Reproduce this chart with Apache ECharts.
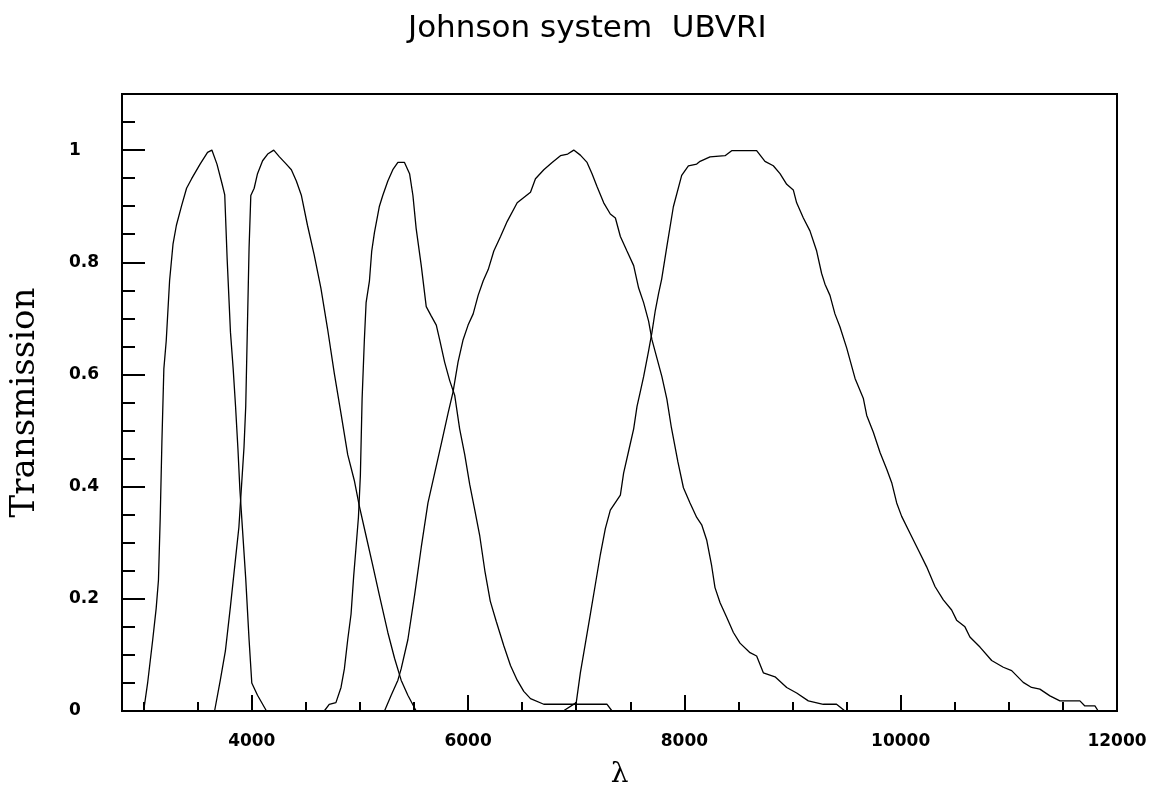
<!DOCTYPE html>
<html>
<head>
<meta charset="utf-8">
<title>Johnson system UBVRI</title>
<script src="https://cdn.jsdelivr.net/npm/echarts@6/dist/echarts.min.js"></script>
<style>
  html, body { margin: 0; padding: 0; background: #fff; }
  #main { width: 1152px; height: 789px; }
</style>
</head>
<body>
<div id="main"></div>
<script>
// wavelengths (Angstrom) and transmission, one pair of arrays per filter
const uWave = [3000, 3037, 3084, 3116, 3137, 3153, 3169, 3187, 3209, 3240, 3272, 3303, 3350, 3397, 3444, 3522, 3591, 3631, 3678, 3725, 3750, 3772, 3803, 3828, 3850, 3872, 3890, 3912, 3944, 3975, 4000, 4053, 4136];
const uTrans = [0, 0.05, 0.127, 0.183, 0.233, 0.342, 0.48, 0.61, 0.66, 0.767, 0.833, 0.866, 0.9, 0.932, 0.949, 0.975, 0.996, 1.0, 0.975, 0.94, 0.92, 0.807, 0.675, 0.61, 0.543, 0.467, 0.395, 0.33, 0.236, 0.127, 0.05, 0.028, 0];

const bWave = [3656, 3709, 3756, 3803, 3850, 3881, 3903, 3928, 3944, 3959, 3975, 3991, 4022, 4053, 4100, 4147, 4203, 4256, 4319, 4366, 4412, 4459, 4515, 4577, 4639, 4701, 4763, 4825, 4887, 4948, 4995, 5057, 5119, 5180, 5258, 5320, 5381, 5443, 5520];
const bTrans = [0, 0.055, 0.107, 0.187, 0.272, 0.328, 0.395, 0.47, 0.543, 0.68, 0.826, 0.919, 0.932, 0.958, 0.981, 0.993, 1.0, 0.988, 0.975, 0.965, 0.945, 0.919, 0.866, 0.813, 0.754, 0.681, 0.602, 0.53, 0.457, 0.411, 0.365, 0.312, 0.259, 0.206, 0.14, 0.094, 0.055, 0.028, 0];

const vWave = [4670, 4716, 4778, 4825, 4856, 4887, 4918, 4942, 4964, 4986, 5004, 5020, 5041, 5057, 5088, 5109, 5134, 5180, 5211, 5258, 5304, 5351, 5412, 5459, 5490, 5520, 5567, 5613, 5660, 5706, 5737, 5783, 5830, 5876, 5922, 5969, 6015, 6062, 6108, 6155, 6205, 6260, 6331, 6392, 6454, 6515, 6577, 6700, 7285, 7331];
const vTrans = [0, 0.012, 0.015, 0.042, 0.075, 0.127, 0.173, 0.24, 0.292, 0.345, 0.42, 0.556, 0.662, 0.728, 0.767, 0.82, 0.853, 0.9, 0.919, 0.945, 0.965, 0.978, 0.978, 0.958, 0.919, 0.86, 0.794, 0.721, 0.704, 0.688, 0.662, 0.622, 0.589, 0.563, 0.503, 0.457, 0.404, 0.358, 0.312, 0.25, 0.196, 0.16, 0.116, 0.081, 0.055, 0.035, 0.022, 0.012, 0.012, 0];

const rWave = [5227, 5289, 5351, 5381, 5443, 5505, 5567, 5629, 5691, 5753, 5814, 5861, 5907, 5954, 6000, 6047, 6093, 6140, 6186, 6238, 6300, 6362, 6454, 6577, 6623, 6700, 6777, 6854, 6921, 6977, 7038, 7100, 7146, 7192, 7254, 7315, 7362, 7408, 7469, 7531, 7577, 7623, 7669, 7700, 7746, 7792, 7838, 7880, 7940, 7991, 8052, 8114, 8160, 8206, 8252, 8283, 8330, 8391, 8453, 8514, 8607, 8668, 8730, 8838, 8946, 9038, 9146, 9284, 9407, 9485];
const rTrans = [0, 0.028, 0.055, 0.075, 0.127, 0.206, 0.292, 0.371, 0.424, 0.477, 0.53, 0.569, 0.622, 0.662, 0.688, 0.708, 0.741, 0.767, 0.787, 0.82, 0.846, 0.873, 0.906, 0.925, 0.949, 0.965, 0.978, 0.99, 0.993, 1.0, 0.991, 0.978, 0.958, 0.935, 0.906, 0.886, 0.879, 0.846, 0.82, 0.794, 0.754, 0.728, 0.695, 0.662, 0.629, 0.596, 0.556, 0.505, 0.444, 0.398, 0.371, 0.345, 0.332, 0.305, 0.259, 0.22, 0.193, 0.167, 0.14, 0.121, 0.104, 0.098, 0.068, 0.061, 0.042, 0.032, 0.018, 0.012, 0.012, 0];

const iWave = [6880, 7000, 7038, 7085, 7131, 7177, 7223, 7269, 7315, 7408, 7438, 7485, 7531, 7562, 7592, 7623, 7669, 7700, 7731, 7762, 7790, 7837, 7898, 7975, 8037, 8114, 8145, 8237, 8376, 8437, 8668, 8745, 8822, 8884, 8946, 9007, 9038, 9100, 9161, 9223, 9269, 9300, 9346, 9392, 9438, 9501, 9578, 9655, 9686, 9747, 9809, 9871, 9917, 9963, 10009, 10086, 10163, 10240, 10317, 10394, 10471, 10517, 10594, 10640, 10733, 10841, 10949, 11026, 11133, 11210, 11287, 11380, 11472, 11657, 11703, 11796, 11826];
const iTrans = [0, 0.015, 0.068, 0.121, 0.173, 0.226, 0.279, 0.325, 0.358, 0.385, 0.424, 0.464, 0.503, 0.543, 0.569, 0.596, 0.642, 0.675, 0.714, 0.745, 0.77, 0.827, 0.899, 0.955, 0.972, 0.975, 0.98, 0.988, 0.99, 0.999, 0.999, 0.98, 0.972, 0.958, 0.939, 0.929, 0.906, 0.879, 0.856, 0.82, 0.78, 0.761, 0.741, 0.708, 0.685, 0.647, 0.593, 0.557, 0.527, 0.497, 0.461, 0.431, 0.407, 0.371, 0.347, 0.317, 0.287, 0.257, 0.222, 0.198, 0.18, 0.162, 0.15, 0.132, 0.114, 0.09, 0.078, 0.072, 0.051, 0.042, 0.039, 0.027, 0.018, 0.018, 0.009, 0.009, 0];

// axis ticks and labels
const xMajorTicks = [4000, 6000, 8000, 10000, 12000];
const xMinorTicks = [3000, 3500, 4500, 5000, 5500, 6500, 7000, 7500, 8500, 9000, 9500, 10500, 11000, 11500];
const yMajorTicks = [0, 0.2, 0.4, 0.6, 0.8, 1];
const yMinorTicks = [0.05, 0.1, 0.15, 0.25, 0.3, 0.35, 0.45, 0.5, 0.55, 0.65, 0.7, 0.75, 0.85, 0.9, 0.95, 1.05];

const filters = [
  ['U', uWave, uTrans],
  ['B', bWave, bTrans],
  ['V', vWave, vTrans],
  ['R', rWave, rTrans],
  ['I', iWave, iTrans]
];

const labelFont = { fontFamily: 'DejaVu Sans', fontWeight: 'bold', fontSize: 17, color: '#000' };

const chart = echarts.init(document.getElementById('main'));
chart.setOption({
  animation: false,
  backgroundColor: '#fff',
  title: {
    text: 'Johnson system  UBVRI',
    left: 403,
    top: 8,
    textStyle: { fontFamily: 'DejaVu Sans', fontWeight: 'normal', fontSize: 31, color: '#000' }
  },
  grid: {
    left: 122, right: 35, top: 94, bottom: 78,
    outerBoundsMode: 'none',
    show: true, borderColor: '#000', borderWidth: 2
  },
  xAxis: [
    {
      type: 'value', min: 2800, max: 12000,
      name: 'λ', nameLocation: 'middle', nameGap: 50,
      nameTextStyle: { fontFamily: 'DejaVu Serif', fontSize: 28, color: '#000' },
      axisLine: { lineStyle: { color: '#000', width: 2 } },
      axisTick: { inside: true, length: 16, customValues: xMajorTicks, lineStyle: { color: '#000', width: 2 } },
      axisLabel: Object.assign({ customValues: xMajorTicks, margin: 22, formatter: (v) => String(v) }, labelFont),
      splitLine: { show: false }
    },
    {
      type: 'value', min: 2800, max: 12000, position: 'bottom',
      axisLine: { show: false },
      axisTick: { inside: true, length: 9, customValues: xMinorTicks, lineStyle: { color: '#000', width: 2 } },
      axisLabel: { show: false },
      splitLine: { show: false }
    }
  ],
  yAxis: [
    {
      type: 'value', min: 0, max: 1.1,
      name: 'Transmission', nameLocation: 'middle', nameGap: 80,
      nameTextStyle: { fontFamily: 'DejaVu Serif', fontSize: 34, color: '#000' },
      axisLine: { lineStyle: { color: '#000', width: 2 } },
      axisTick: { inside: true, length: 23, customValues: yMajorTicks, lineStyle: { color: '#000', width: 2 } },
      axisLabel: Object.assign({ customValues: yMajorTicks, margin: 53, align: 'left', formatter: (v) => String(v) }, labelFont),
      splitLine: { show: false }
    },
    {
      type: 'value', min: 0, max: 1.1, position: 'left',
      axisLine: { show: false },
      axisTick: { inside: true, length: 13, customValues: yMinorTicks, lineStyle: { color: '#000', width: 2 } },
      axisLabel: { show: false },
      splitLine: { show: false }
    }
  ],
  series: filters.map(([name, wave, trans]) => ({
    name: name,
    type: 'line',
    xAxisIndex: 0,
    yAxisIndex: 0,
    showSymbol: false,
    symbol: 'none',
    lineStyle: { color: '#000', width: 1.3 },
    data: wave.map((w, k) => [w, trans[k]])
  }))
});
</script>
</body>
</html>
